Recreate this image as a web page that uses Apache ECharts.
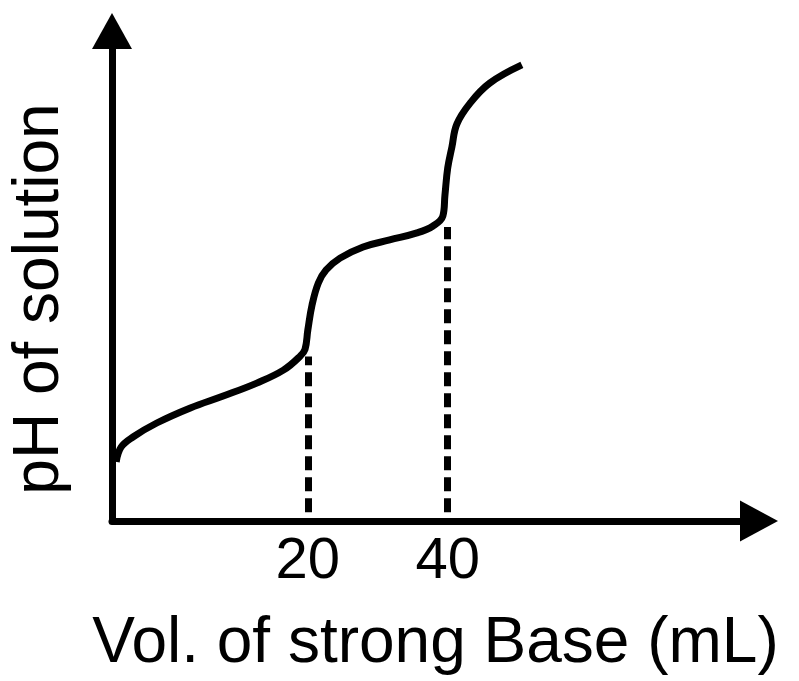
<!DOCTYPE html>
<html>
<head>
<meta charset="utf-8">
<script src="https://cdn.jsdelivr.net/npm/echarts@6/dist/echarts.min.js"></script>
<style>
    html, body {margin: 0; padding: 0; background: #fff;}
    #main {width: 799px; height: 681px;}
</style>
</head>
<body>
<div id="main"></div>
<script>
    // sketch of a titration curve, not to scale
    const volumes = [-7.4, -6.7, -5.0, -1.6, 3.2, 7.9, 12.7, 16.5, 18.9, 19.6, 20.0, 20.6, 21.5, 22.6, 24.6, 27.9, 31.7, 35.6, 37.9, 39.3, 39.6, 40.0, 40.6, 41.3, 43.2, 46.0, 50.6];
    const phValues = [1.69, 2.11, 2.40, 2.80, 3.23, 3.57, 3.94, 4.31, 4.71, 4.91, 5.46, 6.17, 6.80, 7.17, 7.51, 7.83, 8.03, 8.23, 8.43, 8.71, 9.31, 10.09, 10.69, 11.34, 11.94, 12.51, 13.03];
    const tickLabels = [20, 40];
    // equivalence points: [volume, pH where dashed line stops]
    const eqPoints = [[20, 4.7], [40, 8.4]];

    const font = 'Liberation Sans, Arial, sans-serif';
    const chart = echarts.init(document.getElementById('main'));

    const option = {
        backgroundColor: '#fff',
        animation: false,
        grid: {
            left: 112,
            right: 40,
            top: 31,
            bottom: 160,
            containLabel: false,
            outerBoundsMode: 'none'
        },
        xAxis: {
            type: 'value',
            min: -8,
            max: 84.5,
            name: 'Vol. of strong Base (mL)',
            nameLocation: 'middle',
            nameGap: 91,
            nameTextStyle: {fontFamily: font, fontSize: 64, color: '#000'},
            axisLine: {
                onZero: false,
                symbol: ['none', 'triangle'],
                symbolSize: [41, 38],
                lineStyle: {color: '#000', width: 7}
            },
            axisTick: {show: false},
            splitLine: {show: false},
            axisLabel: {
                customValues: tickLabels,
                margin: 12,
                fontFamily: font,
                fontSize: 58,
                color: '#000'
            }
        },
        yAxis: {
            type: 'value',
            min: 0,
            max: 14,
            name: 'pH of solution',
            nameLocation: 'middle',
            nameRotate: 90,
            nameGap: 40,
            nameTextStyle: {fontFamily: font, fontSize: 64, color: '#000', padding: [0, 46, 0, 0]},
            axisLine: {
                onZero: false,
                symbol: ['none', 'triangle'],
                symbolSize: [40, 36],
                lineStyle: {color: '#000', width: 7}
            },
            axisTick: {show: false},
            splitLine: {show: false},
            axisLabel: {show: false}
        },
        series: [
            {
                type: 'line',
                data: volumes.map((v, i) => [v, phValues[i]]),
                smooth: 0.4,
                showSymbol: false,
                lineStyle: {color: '#000', width: 7},
                markLine: {
                    silent: true,
                    symbol: ['none', 'none'],
                    label: {show: false},
                    lineStyle: {color: '#000', width: 7, type: [14, 7]},
                    data: eqPoints.map(p => [{coord: [p[0], 0.25]}, {coord: [p[0], p[1]]}])
                }
            }
        ]
    };

    chart.setOption(option);
</script>
</body>
</html>
